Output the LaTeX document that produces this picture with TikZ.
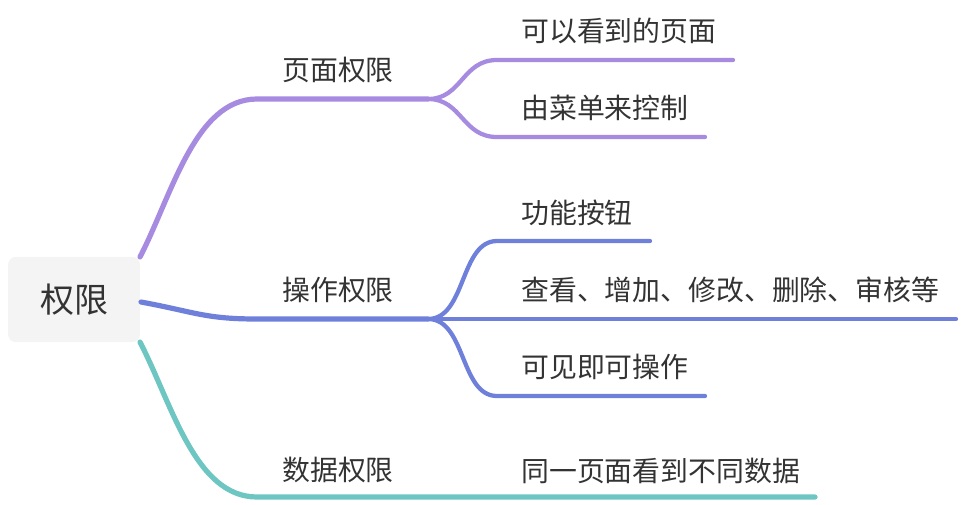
\documentclass[tikz,border=0pt]{standalone}
\usepackage{fontspec}
\setmainfont{Noto Sans CJK SC}
\definecolor{cpurple}{HTML}{A68BE0}
\definecolor{cblue}{HTML}{6F80DB}
\definecolor{cteal}{HTML}{6DC6C2}
\definecolor{rootfill}{HTML}{F4F4F4}
\definecolor{txt}{HTML}{333333}
\tikzset{
  rootbox/.style={fill=rootfill, rounded corners=6pt, minimum width=99pt, minimum height=64pt, inner sep=0pt, text=txt, font=\fontsize{25.5}{30}\selectfont},
  lab/.style={inner sep=0pt, text=txt, font=\fontsize{20.9}{24}\selectfont},
  leaf/.style={lab, anchor=west},
  mainline/.style={line width=3.9pt, line cap=round},
  subline/.style={line width=3.2pt, line cap=round},
}
\begin{document}
\begin{tikzpicture}[x=0.75pt, y=-0.75pt]
\useasboundingbox (0,0) rectangle (962,504);
% root
\node[rootbox] (root) at (74,299.5) {权限};
% level 1 labels
\node[lab] (p1) at (338,70) {页面权限};
\node[lab] (p2) at (338,290) {操作权限};
\node[lab] (p3) at (338,470) {数据权限};
% leaves
\node[leaf] (a1) at (521,31) {可以看到的页面};
\node[leaf] (a2) at (521,108) {由菜单来控制};
\node[leaf] (b1) at (521,213) {功能按钮};
\node[leaf] (b2) at (521,290) {查看、增加、修改、删除、审核等};
\node[leaf] (b3) at (521,367) {可见即可操作};
\node[leaf] (c1) at (521,471) {同一页面看到不同数据};
% coordinates
\coordinate (r1) at (140,257);
\coordinate (r2) at (141,302);
\coordinate (r3) at (140,342);
\coordinate (j1a) at (257,99);
\coordinate (j1) at (428,99);
\coordinate (j2a) at (257,319);
\coordinate (j2) at (428,319);
\coordinate (j3a) at (257,497);
\coordinate (e1s) at (497,60);
\coordinate (e1) at (733,60);
\coordinate (e2s) at (497,137);
\coordinate (e2) at (705,137);
\coordinate (f1s) at (497,241);
\coordinate (f1) at (650,241);
\coordinate (f2) at (956,319);
\coordinate (f3s) at (497,396);
\coordinate (f3) at (705,396);
\coordinate (g1) at (815,497);
% purple
\draw[cpurple, mainline] (r1) .. controls (172,195) and (195,99) .. (j1a) -- (j1);
\draw[cpurple, subline] (j1) .. controls (462,99) and (462,60) .. (e1s) -- (e1);
\draw[cpurple, subline] (j1) .. controls (462,99) and (462,137) .. (e2s) -- (e2);
% blue
\draw[cblue, mainline] (r2) .. controls (195,312) and (205,319) .. (j2a) -- (j2);
\draw[cblue, subline] (j2) .. controls (466,319) and (460,241) .. (f1s) -- (f1);
\draw[cblue, subline] (j2) -- (f2);
\draw[cblue, subline] (j2) .. controls (466,319) and (460,396) .. (f3s) -- (f3);
% teal
\draw[cteal, mainline] (r3) .. controls (172,404) and (195,497) .. (j3a) -- (g1);
\end{tikzpicture}
\end{document}
